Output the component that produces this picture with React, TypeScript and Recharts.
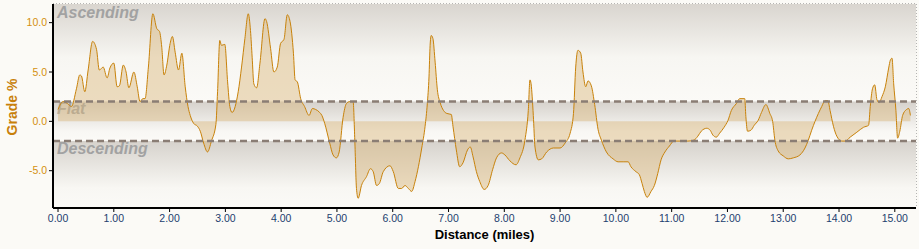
import React from "react";
import {
  ComposedChart,
  Area,
  XAxis,
  YAxis,
  CartesianGrid,
  ReferenceArea,
  ReferenceLine,
} from "recharts";

const miles = [
  0.0, 0.09, 0.17, 0.24, 0.33, 0.39, 0.42, 0.48, 0.54, 0.62, 0.69, 0.74, 0.81, 0.88, 0.93, 1.0,
  1.06, 1.1, 1.17, 1.22, 1.27, 1.36, 1.42, 1.47, 1.52, 1.56, 1.62, 1.7, 1.77, 1.82, 1.86, 1.9,
  1.95, 2.01, 2.05, 2.1, 2.16, 2.22, 2.28, 2.33, 2.37, 2.43, 2.5, 2.55, 2.61, 2.68, 2.75, 2.83,
  2.86, 2.9, 2.93, 2.99, 3.04, 3.08, 3.12, 3.23, 3.29, 3.35, 3.41, 3.45, 3.48, 3.51, 3.56, 3.62,
  3.71, 3.74, 3.81, 3.87, 3.93, 3.99, 4.05, 4.11, 4.16, 4.22, 4.25, 4.29, 4.35, 4.42, 4.5, 4.56,
  4.62, 4.69, 4.73, 4.78, 4.87, 4.93, 4.99, 5.04, 5.11, 5.17, 5.23, 5.29, 5.32, 5.35, 5.38, 5.44,
  5.53, 5.6, 5.65, 5.71, 5.76, 5.83, 5.95, 6.01, 6.1, 6.16, 6.22, 6.28, 6.34, 6.4, 6.46, 6.52,
  6.58, 6.62, 6.65, 6.67, 6.69, 6.72, 6.76, 6.8, 6.85, 6.91, 6.97, 7.05, 7.08, 7.14, 7.2, 7.26,
  7.34, 7.39, 7.44, 7.5, 7.56, 7.64, 7.71, 7.79, 7.86, 7.95, 8.01, 8.1, 8.21, 8.28, 8.37, 8.43,
  8.46, 8.48, 8.52, 8.55, 8.61, 8.67, 8.76, 8.88, 9.0, 9.09, 9.18, 9.24, 9.28, 9.32, 9.37, 9.41,
  9.46, 9.5, 9.56, 9.62, 9.68, 9.74, 9.83, 9.95, 10.04, 10.13, 10.22, 10.27, 10.36, 10.42, 10.47,
  10.51, 10.56, 10.63, 10.69, 10.75, 10.81, 10.88, 10.96, 11.04, 11.17, 11.29, 11.4, 11.47, 11.53,
  11.63, 11.69, 11.74, 11.8, 11.86, 11.94, 12.01, 12.07, 12.16, 12.22, 12.31, 12.33, 12.36, 12.42,
  12.48, 12.55, 12.61, 12.69, 12.76, 12.81, 12.85, 12.91, 13.0, 13.09, 13.18, 13.3, 13.39, 13.45,
  13.51, 13.57, 13.63, 13.69, 13.75, 13.8, 13.84, 13.9, 13.96, 14.05, 14.11, 14.2, 14.32, 14.44,
  14.53, 14.56, 14.6, 14.64, 14.68, 14.72, 14.77, 14.83, 14.89, 14.92, 14.95, 14.98, 15.02, 15.05,
  15.09, 15.14, 15.21, 15.25, 15.28,
];

const grade = [
  1.2, 2.0, 1.8, 1.5, 3.3, 4.7, 4.6, 3.0, 5.2, 8.1, 7.3, 5.2, 5.5, 4.4, 5.4, 5.9,
  3.5, 3.6, 5.7, 5.0, 3.4, 5.0, 3.5, 2.0, 2.3, 2.3, 5.5, 10.9, 9.4, 9.1, 7.5, 4.7,
  5.7, 7.9, 8.6, 7.0, 5.2, 6.9, 3.5, 1.5, 0.6, -0.2, -0.5, -1.0, -2.2, -3.1, -2.0, -0.3,
  3.0, 8.2, 7.7, 7.8, 4.0, 1.5, 0.9, 3.0, 5.5, 8.4, 10.9, 9.2, 6.5, 3.8, 3.4, 5.9,
  10.4, 10.1, 7.4, 5.0, 5.5, 7.9, 8.3, 10.8, 10.1, 6.9, 4.2, 4.0, 2.3, 1.5, 0.6, 1.3,
  1.2, 0.9, 0.6, -0.2, -2.2, -3.4, -3.7, -3.1, 0.4, 1.8, 2.0, 2.0, -1.9, -6.8, -7.8, -6.5,
  -5.6, -4.8, -5.1, -6.5, -6.3, -5.1, -4.5, -5.1, -6.8, -6.8, -6.5, -6.8, -7.1, -6.1, -4.6, -2.7,
  -0.5, 1.8, 4.5, 7.7, 8.7, 8.4, 6.0, 3.2, 1.9, 1.1, 0.8, 0.7, -0.5, -2.9, -4.6, -4.2,
  -2.9, -2.6, -3.6, -5.1, -6.1, -6.9, -6.5, -4.9, -3.7, -3.2, -3.4, -4.0, -4.4, -3.7, -1.9, 1.1,
  4.2, 3.8, 0.6, -2.6, -3.9, -3.8, -3.1, -2.7, -2.7, -2.2, -1.2, 0.8, 5.5, 7.2, 6.9, 5.0,
  3.5, 4.1, 3.6, 1.7, -0.8, -1.9, -3.1, -3.8, -4.1, -4.1, -4.1, -4.6, -5.1, -5.4, -6.3,
  -7.1, -7.7, -7.1, -6.5, -5.3, -3.9, -3.1, -2.5, -2.0, -2.0, -2.0, -1.9, -1.5, -1.0,
  -0.7, -0.9, -1.4, -1.6, -1.2, -0.6, 0.1, 1.1, 1.8, 2.3, 2.3, 0.5, -1.0, -0.9,
  -0.4, 0.1, 0.9, 1.7, 0.8, 0.0, -1.9, -3.0, -3.5, -3.8, -3.7, -3.4, -2.7, -1.9,
  -0.9, 0.0, 0.8, 1.5, 2.1, 2.1, 1.1, -0.5, -1.5, -2.0, -2.0, -1.6, -1.1, -0.6,
  -0.4, 1.5, 3.3, 3.7, 2.2, 1.9, 2.5, 3.5, 5.4, 6.2, 6.4, 3.8, 1.1, -1.7,
  -1.0, 0.6, 1.2, 1.3, 0.6,
];

const xTicks = [0, 1, 2, 3, 4, 5, 6, 7, 8, 9, 10, 11, 12, 13, 14, 15];
const yTicks = [-5, 0, 5, 10];

const X_MIN = -0.09;
const X_MAX = 15.38;
const Y_MIN = -8.78;
const Y_MAX = 11.89;

const data = miles.map((m, i) => ({ mile: m, grade: grade[i] }));

const FONT = "'Liberation Sans', Arial, sans-serif";

const bandLabel = (text: string, dy: number) => (props: any) => {
  const vb = props.viewBox || {};
  return (
    <text
      x={vb.x + 4}
      y={vb.y + dy}
      fontFamily={FONT}
      fontSize={16}
      fontWeight="bold"
      fontStyle="italic"
      fill="#a2a2a2"
    >
      {text}
    </text>
  );
};

export default function App() {
  return (
    <div
      style={{
        position: "absolute",
        left: 0,
        top: 0,
        width: 919,
        height: 249,
        background: "#fbfaf6",
      }}
    >
      <ComposedChart
        width={919}
        height={249}
        data={data}
        margin={{ top: 4, right: 3, bottom: 0, left: 0 }}
      >
        <defs>
          <linearGradient id="bandAsc" x1="0" y1="0" x2="0" y2="1">
            <stop offset="0%" stopColor="#d9d5cf" />
            <stop offset="55%" stopColor="#f7f6f2" />
            <stop offset="100%" stopColor="#fbfaf7" />
          </linearGradient>
          <linearGradient id="bandFlat" x1="0" y1="0" x2="0" y2="1">
            <stop offset="0%" stopColor="#d6d2cc" />
            <stop offset="75%" stopColor="#f8f7f4" />
            <stop offset="100%" stopColor="#fbfaf7" />
          </linearGradient>
          <linearGradient id="bandDesc" x1="0" y1="0" x2="0" y2="1">
            <stop offset="0%" stopColor="#d6d2cc" />
            <stop offset="70%" stopColor="#f8f7f3" />
            <stop offset="100%" stopColor="#fbfaf7" />
          </linearGradient>
        </defs>
        <ReferenceArea
          y1={2}
          y2={Y_MAX}
          fill="url(#bandAsc)"
          fillOpacity={1}
          label={bandLabel("Ascending", 14)}
        />
        <ReferenceArea
          y1={-2}
          y2={2}
          fill="url(#bandFlat)"
          fillOpacity={1}
          label={bandLabel("Flat", 12.5)}
        />
        <ReferenceArea
          y1={Y_MIN}
          y2={-2}
          fill="url(#bandDesc)"
          fillOpacity={1}
          label={bandLabel("Descending", 13)}
        />
        <CartesianGrid stroke="#707070" strokeDasharray="1 2" />
        <XAxis
          dataKey="mile"
          type="number"
          domain={[X_MIN, X_MAX]}
          ticks={xTicks}
          allowDataOverflow
          tickFormatter={(v: number) => v.toFixed(2)}
          tick={{ fill: "#22406e", fontSize: 10.5, fontFamily: FONT }}
          tickSize={4}
          tickMargin={3}
          height={41}
          axisLine={{ stroke: "#000", strokeWidth: 2 }}
          tickLine={{ stroke: "#000" }}
          label={() => (
            <text
              x={484.5}
              y={239}
              textAnchor="middle"
              fontFamily={FONT}
              fontSize={13}
              fontWeight="bold"
              fill="#000"
            >
              Distance (miles)
            </text>
          )}
        />
        <YAxis
          type="number"
          domain={[Y_MIN, Y_MAX]}
          ticks={yTicks}
          allowDataOverflow
          tickFormatter={(v: number) => v.toFixed(1)}
          tick={{ fill: "#d4900e", fontSize: 10.5, fontFamily: FONT }}
          tickSize={4}
          tickMargin={2}
          width={53}
          axisLine={{ stroke: "#000", strokeWidth: 2 }}
          tickLine={{ stroke: "#000" }}
          label={() => (
            <text
              x={17}
              y={107}
              transform="rotate(-90 17 107)"
              textAnchor="middle"
              fontFamily={FONT}
              fontSize={14}
              fontWeight="bold"
              fill="#c8800a"
            >
              Grade %
            </text>
          )}
        />
        <Area
          type="monotone"
          dataKey="grade"
          baseValue={0}
          stroke="#c8820a"
          strokeWidth={1}
          fill="#d9b67a"
          fillOpacity={0.45}
          isAnimationActive={false}
          dot={false}
          activeDot={false}
        />
        <ReferenceLine y={2} stroke="#8a7d74" strokeWidth={2.5} strokeDasharray="7 4" />
        <ReferenceLine y={-2} stroke="#8a7d74" strokeWidth={2.5} strokeDasharray="7 4" />
      </ComposedChart>
    </div>
  );
}
